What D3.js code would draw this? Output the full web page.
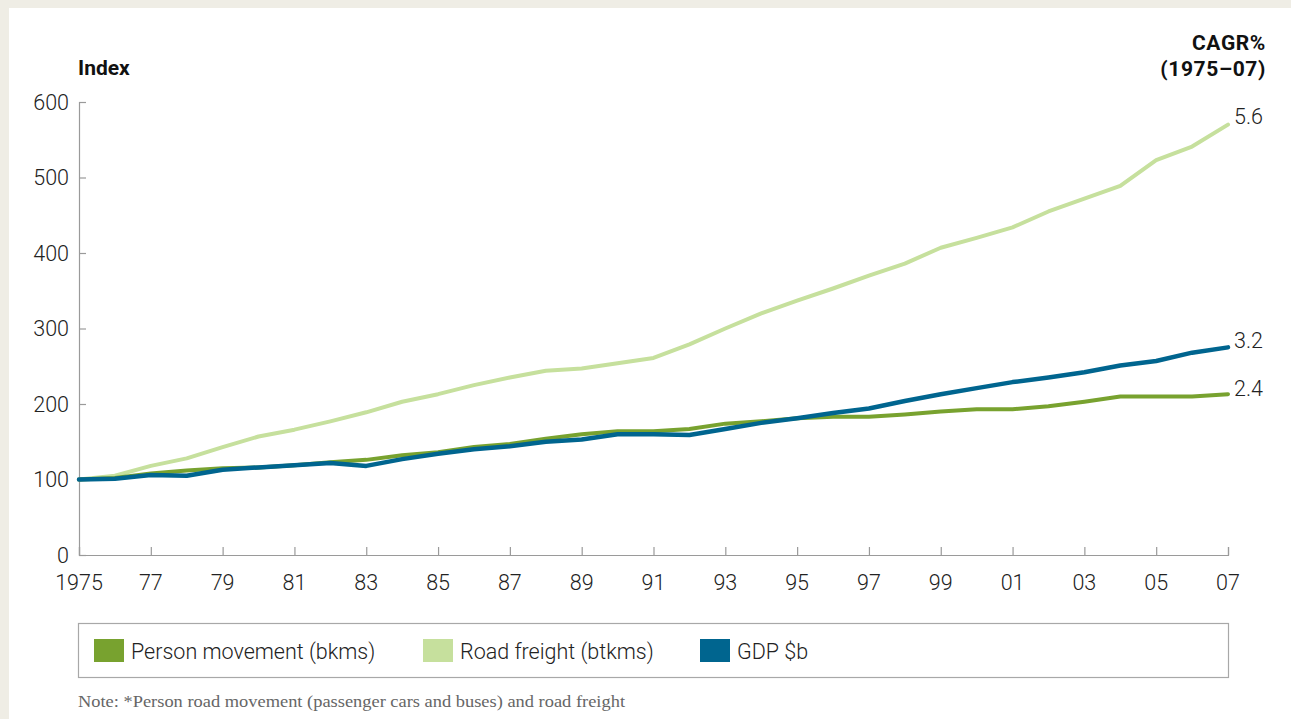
<!DOCTYPE html>
<html><head><meta charset="utf-8">
<script src="https://cdn.jsdelivr.net/npm/d3@7"></script>
<style>
body{margin:0;background:#efede5;}
svg{display:block;}
</style></head>
<body>
<svg id="chart" width="1291" height="719"></svg>
<script>
const years = d3.range(1975, 2008);
const tickYears = [1975,1977,1979,1981,1983,1985,1987,1989,1991,1993,1995,1997,1999,2001,2003,2005,2007];
const tickLabels = ["1975","77","79","81","83","85","87","89","91","93","95","97","99","01","03","05","07"];
const yTicks = [0,100,200,300,400,500,600];
const roadFreight = [100,105,118,128,143,157,166,177,189,203,213,225,235,244,247,254,261,279,300,320,337,353,370,386,407,420,434,455,472,489,523,541,570];
const personMovement = [100,102,108,112,115,116,119,123,126,132,136,143,147,154,160,164,164,167,174,177,181,183,183,186,190,193,193,197,203,210,210,210,213];
const gdp = [100,101,106,105,113,116,119,122,118,127,134,140,144,150,153,160,160,159,167,175,181,188,194,204,213,221,229,235,242,251,257,268,275];
const seriesNames = ["Person movement (bkms)","Road freight (btkms)","GDP $b"];
const seriesColors = ["#78a22f","#c6e09d","#00658f"];
const cagr = ["2.4","5.6","3.2"];

const svg = d3.select("#chart");
svg.append("rect").attr("x",9).attr("y",8).attr("width",1291-9).attr("height",719-8).attr("fill","#fff");

const x = d3.scaleLinear().domain([1975,2007]).range([79,1228]);
const y = d3.scaleLinear().domain([0,600]).range([555,102]);

const axisColor = "#9a9a9a";
const font = "Roboto, 'Liberation Sans', sans-serif";

// y axis
const gy = svg.append("g").attr("transform","translate(79,0)")
  .call(d3.axisRight(y).tickValues(yTicks).tickSize(7).tickFormat(""));
gy.select(".domain").attr("stroke",axisColor).attr("stroke-width",1.2);
gy.selectAll(".tick line").attr("stroke",axisColor).attr("stroke-width",1.2);
svg.append("g").selectAll("text").data(yTicks).join("text")
  .attr("x",69).attr("y",d=>y(d)).attr("dy","0.36em").attr("text-anchor","end")
  .attr("font-family",font).attr("font-weight",300).attr("font-size",21.5).attr("fill","#222")
  .text(d=>d);

// x axis
const gx = svg.append("g").attr("transform","translate(0,555)")
  .call(d3.axisTop(x).tickValues(tickYears).tickSize(8).tickFormat(""));
gx.select(".domain").attr("stroke",axisColor).attr("stroke-width",1.2);
gx.selectAll(".tick line").attr("stroke",axisColor).attr("stroke-width",1.2);
svg.append("g").selectAll("text").data(tickYears).join("text")
  .attr("x",d=>x(d)).attr("y",590).attr("text-anchor","middle")
  .attr("font-family",font).attr("font-weight",300).attr("font-size",21.5).attr("fill","#222")
  .text((d,i)=>tickLabels[i]);

// headers
svg.append("text").attr("x",78).attr("y",75).attr("font-family",font).attr("font-weight",700)
  .attr("font-size",21).attr("fill","#111").text("Index");
svg.append("text").attr("x",1266).attr("y",50).attr("text-anchor","end").attr("font-family",font).attr("font-weight",700)
  .attr("font-size",21).attr("fill","#111").attr("letter-spacing","0.6").text("CAGR%");
svg.append("text").attr("x",1266).attr("y",76).attr("text-anchor","end").attr("font-family",font).attr("font-weight",700)
  .attr("font-size",21).attr("fill","#111").attr("letter-spacing","0.6").text("(1975–07)");

// lines
const data = [personMovement, roadFreight, gdp];
const line = d3.line().x((d,i)=>x(years[i])).y(d=>y(d));
const order = [1,0,2];
const widths = [4,4,4.5];
order.forEach(k=>{
  svg.append("path").datum(data[k]).attr("d",line).attr("fill","none")
    .attr("stroke",seriesColors[k]).attr("stroke-width",widths[k]).attr("stroke-linejoin","round").attr("stroke-linecap","round");
});
// end labels
const endOffsets = [-6,-8,-7];
data.forEach((s,k)=>{
  svg.append("text").attr("x",1234).attr("y",y(s[s.length-1])+endOffsets[k]).attr("dy","0.36em")
    .attr("font-family",font).attr("font-weight",300).attr("font-size",21.5).attr("fill","#222").text(cagr[k]);
});

// legend
svg.append("rect").attr("x",78.5).attr("y",623.5).attr("width",1150).attr("height",54)
  .attr("fill","none").attr("stroke","#a8a8a8").attr("stroke-width",1.2);
const legX = [94,423,700];
seriesNames.forEach((n,k)=>{
  svg.append("rect").attr("x",legX[k]).attr("y",639).attr("width",30).attr("height",23).attr("fill",seriesColors[k]);
  svg.append("text").attr("x",legX[k]+37).attr("y",651).attr("dy","0.36em")
    .attr("font-family",font).attr("font-weight",300).attr("font-size",21.5).attr("fill","#222").text(n);
});

svg.append("text").attr("x",78).attr("y",707).attr("font-family","'Liberation Serif', 'DejaVu Serif', serif")
  .attr("font-size",16.5).attr("fill","#666")
  .attr("textLength",547).attr("lengthAdjust","spacingAndGlyphs")
  .text("Note: *Person road movement (passenger cars and buses) and road freight");
</script>
</body></html>
